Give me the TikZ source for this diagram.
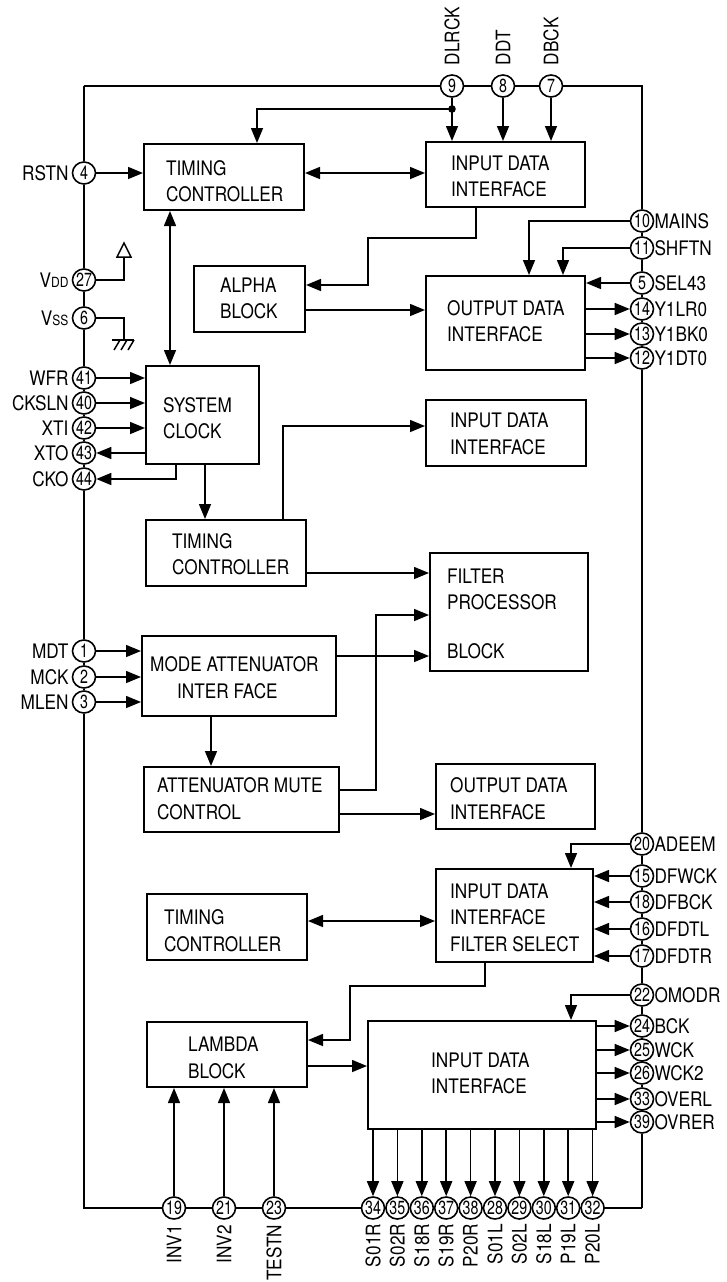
\documentclass[tikz,border=0pt]{standalone}
\usepackage{fontspec}
\setmainfont{TeX Gyre Heros}[FakeStretch=0.86]
\newfontfamily\pinfont{TeX Gyre Heros}[FakeStretch=0.75]
\usetikzlibrary{arrows.meta,shapes.geometric,fit,calc}
\begin{document}
\begin{tikzpicture}[x=1pt,y=-1pt,
  frame/.style={line width=2.6pt},
  blk/.style={draw, line width=2pt, inner sep=0pt},
  txt/.style={font=\fontsize{20}{26.5}\selectfont, align=left, inner sep=0pt},
  wire/.style={line width=1.5pt},
  arr/.style={wire, -{Triangle[length=15pt,width=12pt]}},
  darr/.style={wire, {Triangle[length=15pt,width=12pt]}-{Triangle[length=15pt,width=12pt]}},
  pin/.style={ellipse, draw, line width=1.6pt, fill=white, minimum width=23pt, minimum height=22pt, inner sep=0pt, font=\pinfont\fontsize{19}{19}\selectfont},
  lbl/.style={font=\fontsize{20}{20}\selectfont, inner sep=0pt},
]
\fill[white] (0,0) rectangle (727,1282);
\useasboundingbox (0,0) rectangle (727,1282);

% ---------- blocks ----------
\node[blk, fit={(144,144) (304,210)}] (tc1) {};
\node[txt, anchor=west] (tc1t) at (166,181.3) {TIMING\\CONTROLLER};
\node[blk, fit={(426,142) (585,207)}] (idi1) {};
\node[txt, anchor=west] (idi1t) at (451,176.3) {INPUT DATA\\INTERFACE};
\node[blk, fit={(194,266) (305,332)}] (alpha) {};
\node[txt, anchor=west] (alphat) at (220,298.3) {ALPHA\\BLOCK};
\node[blk, fit={(426,276) (585,370)}] (odi1) {};
\node[txt, anchor=west] (odi1t) at (447,321.3) {OUTPUT DATA\\INTERFACE};
\node[blk, fit={(146,366) (259,464)}] (sc) {};
\node[txt, anchor=west] (sct) at (163,418.3) {SYSTEM\\CLOCK};
\node[blk, fit={(426,400) (586,466)}] (idi2) {};
\node[txt, anchor=west] (idi2t) at (450,433.8) {INPUT DATA\\INTERFACE};
\node[blk, fit={(146,520) (306,586)}] (tc2) {};
\node[txt, anchor=west] (tc2t) at (172,554.3) {TIMING\\CONTROLLER};
\node[blk, fit={(430,553) (588,671)}] (fpb) {};
\node[txt, anchor=west] (fpbt) at (447,613.8) {FILTER\\PROCESSOR\\[22pt]BLOCK};
\node[blk, fit={(142,636) (336,716)}] (mai) {};
\node[txt, anchor=west] (mait) at (150,677.8) {MODE ATTENUATOR\\\hspace*{27pt}INTER FACE};
\node[blk, fit={(144,767) (339,832)}] (amc) {};
\node[txt, anchor=west] (amct) at (157,798.8) {ATTENUATOR MUTE\\CONTROL};
\node[blk, fit={(436,764) (595,829)}] (odi2) {};
\node[txt, anchor=west] (odi2t) at (450,798.8) {OUTPUT DATA\\INTERFACE};
\node[blk, fit={(436,869) (593,962)}] (idifs) {};
\node[txt, anchor=west] (idifst) at (450,917.8) {INPUT DATA\\INTERFACE\\FILTER SELECT};
\node[blk, fit={(147,894) (307,960)}] (tc3) {};
\node[txt, anchor=west] (tc3t) at (164,930.8) {TIMING\\CONTROLLER};
\node[blk, fit={(147,1022) (307,1087)}] (lambda) {};
\node[txt, anchor=west] (lambdat) at (188,1057.8) {LAMBDA\\BLOCK};
\node[blk, fit={(368,1021) (596,1129)}] (idi3) {};
\node[txt, anchor=west] (idi3t) at (431,1073.3) {INPUT DATA\\INTERFACE};

% ---------- pins: left ----------
\foreach \n/\y/\lab in {4/173/RSTN,27/280/{V{\fontsize{14}{14}\selectfont DD}},6/318/{V{\fontsize{14}{14}\selectfont SS}},41/378/WFR,40/403/CKSLN,42/428/XTI,43/453/XTO,44/479/CKO,1/651/MDT,2/677/MCK,3/702/MLEN} {
  \node[pin] (p\n) at (84,\y) {\n};
  \node[lbl, anchor=east] (l\n) at ([xshift=-3pt]p\n.west) {\lab};
}
% ---------- pins: right ----------
\foreach \n/\y/\lab in {10/221/MAINS,11/248/SHFTN,5/283/SEL43,14/309/Y1LR0,13/334/Y1BK0,12/358/Y1DT0,20/844/ADEEM,15/876/DFWCK,18/902/DFBCK,16/929/DFDTL,17/956/DFDTR,22/995/OMODR,24/1026/BCK,25/1050/WCK,26/1073/WCK2,33/1099/OVERL,39/1122/OVRER} {
  \node[pin] (p\n) at (642,\y) {\n};
  \node[lbl, anchor=west] (l\n) at (p\n.east) {\lab};
}
% ---------- pins: top ----------
\foreach \n/\x/\lab in {9/452/DLRCK,8/503/DDT,7/551/DBCK} {
  \node[pin] (p\n) at (\x,86) {\n};
  \node[lbl, rotate=90, anchor=west] (l\n) at ([yshift=9pt]p\n.north) {\lab};
}
% ---------- pins: bottom ----------
\foreach \n/\x/\lab in {19/174/INV1,21/224/INV2,23/274/TESTN} {
  \node[pin] (p\n) at (\x,1208) {\n};
  \node[lbl, rotate=90, anchor=east] (l\n) at ([yshift=-5pt]p\n.south) {\lab};
}
\foreach \n/\lab [count=\i from 0] in {34/S01R,35/S02R,36/S18R,37/S19R,38/P20R,28/S01L,29/S02L,30/S18L,31/P19L,32/P20L} {
  \node[pin] (p\n) at ({373+24.4*\i},1208) {\n};
  \node[lbl, rotate=90, anchor=east] (l\n) at ([yshift=-4pt]p\n.south) {\lab};
}

% ---------- frame ----------
\coordinate (tl) at (84,86);
\coordinate (tr) at (642,86);
\coordinate (bl) at (84,1208);
\coordinate (br) at (642,1208);
\draw[frame] (tl) -- (p9) -- (p8) -- (p7) -- (tr) -- (p10) -- (p11) -- (p5) -- (p14) -- (p13) -- (p12) -- (p20) -- (p15) -- (p18) -- (p16) -- (p17) -- (p22) -- (p24) -- (p25) -- (p26) -- (p33) -- (p39) -- (br);
\draw[frame] (tl) -- (p4) -- (p27) -- (p6) -- (p41) -- (p40) -- (p42) -- (p43) -- (p44) -- (p1) -- (p2) -- (p3) -- (bl) -- (p19) -- (p21) -- (p23) -- (p34) -- (p35) -- (p36) -- (p37) -- (p38) -- (p28) -- (p29) -- (p30) -- (p31) -- (p32) -- (br);

% ---------- supply symbols ----------
\coordinate (v1) at (124,257);
\draw[wire] (p27.east) -| (v1);
\draw[wire, line join=miter] ([xshift=-7pt]v1) -- ([xshift=7pt]v1) -- ([yshift=14pt]v1) -- cycle;
\coordinate (g1) at (124,340);
\draw[wire] (p6.east) -| (g1);
\draw[wire] ([xshift=-12pt]g1) -- ([xshift=10pt]g1);
\foreach \dx in {-4,3,10} \draw[wire] ([xshift=\dx pt]g1) -- ++(-6,10);

% ---------- connectors ----------
\coordinate (j9) at (452,109);
\draw[arr] (p9.south) -- (p9.south |- idi1.north);
\fill (j9) circle (3.8pt);
\draw[arr] (j9) -| ([xshift=33pt]tc1.north);
\draw[arr] (p8.south) -- (p8.south |- idi1.north);
\draw[arr] (p7.south) -- (p7.south |- idi1.north);
\draw[arr] (p4.east) -- (p4.east -| tc1.west);
\draw[darr] (tc1.east |- p4) -- (idi1.west |- p4);
\draw[darr] ([xshift=-54pt]tc1.south) -- ([xshift=-54pt]tc1.south |- sc.north);

\coordinate (w1) at (476,238);
\coordinate (w2) at (368,238);
\coordinate (w3) at (368,285);
\draw[arr] (w1 |- idi1.south) -- (w1) -- (w2) -- (w3) -- (w3 -| alpha.east);
\coordinate (w4) at (0,310);
\draw[arr] (alpha.east |- w4) -- (odi1.west |- w4);
\coordinate (w5) at (529,0);
\draw[arr] (p10.west) -| (w5 |- odi1.north);
\coordinate (w6) at (563,0);
\draw[arr] (p11.west) -| (w6 |- odi1.north);
\draw[arr] (p5.west) -- (p5.west -| odi1.east);
\foreach \n in {14,13,12} \draw[arr] (odi1.east |- p\n) -- (p\n.west);

\foreach \n in {41,40,42} \draw[arr] (p\n.east) -- (p\n.east -| sc.west);
\draw[arr] (sc.west |- p43) -- (p43.east);
\coordinate (w7) at (176,0);
\draw[arr] (w7 |- sc.south) |- (p44.east);
\coordinate (w8) at (205,0);
\draw[arr] (w8 |- sc.south) -- (w8 |- tc2.north);
\coordinate (w9) at (283,426);
\draw[arr] (w9 |- tc2.north) -- (w9) -- (w9 -| idi2.west);
\coordinate (w10) at (0,573);
\draw[arr] (tc2.east |- w10) -- (fpb.west |- w10);
\coordinate (w11) at (376,790);
\coordinate (w12) at (376,615);
\draw[arr] (amc.east |- w11) -- (w11) -- (w12) -- (w12 -| fpb.west);
\coordinate (w13) at (0,656);
\draw[arr] (mai.east |- w13) -- (fpb.west |- w13);
\foreach \n in {1,2,3} \draw[arr] (p\n.east) -- (p\n.east -| mai.west);
\coordinate (w14) at (211,0);
\draw[arr] (w14 |- mai.south) -- (w14 |- amc.north);
\coordinate (w15) at (0,814);
\draw[arr] (amc.east |- w15) -- (odi2.west |- w15);

\coordinate (w16) at (571,0);
\draw[arr] (p20.west) -| (w16 |- idifs.north);
\foreach \n in {15,18,16,17} \draw[arr] (p\n.west) -- (p\n.west -| idifs.east);
\coordinate (w17) at (0,921);
\draw[darr] (tc3.east |- w17) -- (idifs.west |- w17);
\coordinate (w18) at (485,986);
\coordinate (w19) at (350,986);
\coordinate (w20) at (350,1040);
\draw[arr] (w18 |- idifs.south) -- (w18) -- (w19) -- (w20) -- (w20 -| lambda.east);
\coordinate (w21) at (0,1066);
\draw[arr] (lambda.east |- w21) -- (idi3.west |- w21);
\draw[arr] (p22.west) -| (w16 |- idi3.north);
\foreach \n in {24,25,26,33,39} \draw[arr] (idi3.east |- p\n) -- (p\n.west);
\foreach \n in {34,35,36,37,38,28,29,30,31,32} \draw[arr] (p\n.north |- idi3.south) -- (p\n.north);
\foreach \n in {19,21,23} \draw[arr] (p\n.north) -- (p\n.north |- lambda.south);
\end{tikzpicture}
\end{document}
